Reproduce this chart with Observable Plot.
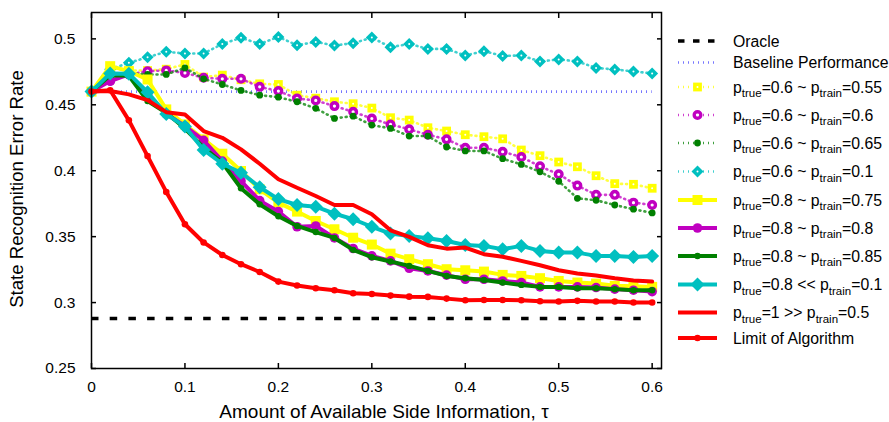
<!DOCTYPE html>
<html><head><meta charset="utf-8">
<script src="https://cdn.jsdelivr.net/npm/d3@7"></script>
<script src="https://cdn.jsdelivr.net/npm/@observablehq/plot@0.6"></script>
<style>html,body{margin:0;padding:0;background:#fff} svg{display:block}</style>
</head><body><div id="chart"></div>
<script>
// ---- data ----
const tau = [0,0.02,0.04,0.06,0.08,0.1,0.12,0.14,0.16,0.18,0.2,0.22,0.24,0.26,0.28,0.3,0.32,0.34,0.36,0.38,0.4,0.42,0.44,0.46,0.48,0.5,0.52,0.54,0.56,0.58,0.6];
const xTicks = [0,0.1,0.2,0.3,0.4,0.5,0.6];
const yTicks = [0.25,0.3,0.35,0.4,0.45,0.5];
const oracleValue = 0.288;
const baselineValue = 0.46;

const p06_055 = [0.46,0.478,0.476,0.476,0.477,0.4806,0.471,0.4725,0.469,0.4659,0.4654,0.4573,0.455,0.4523,0.4508,0.4475,0.4402,0.4384,0.4326,0.4301,0.4273,0.4258,0.4242,0.4157,0.4114,0.4066,0.403,0.3962,0.3902,0.3897,0.3867];
const p06_06 = [0.46,0.468,0.473,0.4755,0.4761,0.4742,0.4705,0.4697,0.4697,0.4636,0.4604,0.4548,0.4533,0.449,0.4447,0.4396,0.4351,0.4314,0.4273,0.4238,0.4174,0.4174,0.4144,0.4104,0.4033,0.3973,0.3887,0.3817,0.3817,0.3758,0.374];
const p06_065 = [0.46,0.47,0.474,0.473,0.473,0.478,0.4697,0.4654,0.4609,0.4573,0.4558,0.4523,0.4473,0.4397,0.4414,0.4346,0.4321,0.4263,0.4263,0.418,0.415,0.415,0.4091,0.4048,0.3992,0.392,0.3791,0.3776,0.374,0.3708,0.368];
const p06_01 = [0.46,0.477,0.4818,0.4861,0.4902,0.4889,0.4889,0.4962,0.5008,0.4962,0.5015,0.4952,0.4977,0.495,0.4967,0.501,0.4937,0.4962,0.4924,0.4924,0.4874,0.4907,0.4871,0.4874,0.4829,0.4844,0.4829,0.478,0.4768,0.4753,0.4738];
const p08_075 = [0.46,0.4793,0.4755,0.4692,0.4465,0.4351,0.4238,0.4129,0.3998,0.3859,0.3758,0.369,0.3619,0.3556,0.3492,0.344,0.3371,0.3329,0.3291,0.3253,0.3245,0.3235,0.321,0.3202,0.3185,0.3164,0.3152,0.3144,0.3127,0.3124,0.3119];
const p08_08 = [0.46,0.468,0.473,0.458,0.443,0.4339,0.423,0.4073,0.3922,0.3773,0.369,0.3575,0.3581,0.349,0.341,0.3354,0.3316,0.326,0.324,0.3208,0.3177,0.3177,0.3164,0.3152,0.3119,0.3119,0.3119,0.3114,0.3102,0.3094,0.3083];
const p08_085 = [0.46,0.4725,0.472,0.4528,0.444,0.432,0.4175,0.406,0.3867,0.3745,0.3655,0.3581,0.3535,0.349,0.34,0.3344,0.3311,0.3278,0.324,0.3202,0.3185,0.3172,0.3152,0.3134,0.3119,0.3119,0.3109,0.3109,0.3102,0.3094,0.3094];
const p08_01 = [0.46,0.4738,0.4736,0.4595,0.443,0.4335,0.4158,0.4053,0.3985,0.3875,0.3785,0.374,0.3727,0.3674,0.3632,0.3575,0.3523,0.3505,0.3488,0.3467,0.3437,0.343,0.3405,0.343,0.3392,0.3379,0.3379,0.3354,0.3354,0.3346,0.3354];
const p1_05 = [0.46,0.4604,0.4579,0.4535,0.4444,0.4427,0.4301,0.425,0.4162,0.4053,0.3935,0.3871,0.3808,0.374,0.374,0.367,0.3548,0.3498,0.3435,0.3409,0.3417,0.3367,0.3348,0.3316,0.3283,0.3245,0.322,0.3205,0.3185,0.3167,0.3159];
const limitAlg = [0.46,0.461,0.4382,0.4111,0.3839,0.3594,0.3456,0.3361,0.3291,0.3232,0.3159,0.3129,0.3109,0.3094,0.3071,0.3065,0.3053,0.3045,0.3043,0.303,0.3018,0.302,0.302,0.3018,0.301,0.3008,0.3013,0.3008,0.3008,0.3,0.3];

const legendLabels = [
  ["Oracle"],
  ["Baseline Performance"],
  ["p","true","=0.6 ~ p","train","=0.55"],
  ["p","true","=0.6 ~ p","train","=0.6"],
  ["p","true","=0.6 ~ p","train","=0.65"],
  ["p","true","=0.6 ~ p","train","=0.1"],
  ["p","true","=0.8 ~ p","train","=0.75"],
  ["p","true","=0.8 ~ p","train","=0.8"],
  ["p","true","=0.8 ~ p","train","=0.85"],
  ["p","true","=0.8 << p","train","=0.1"],
  ["p","true","=1 >> p","train","=0.5"],
  ["Limit of Algorithm"]
];

// ---- styles ----
const YEL = "#ffff00", MAG = "#c000c0", GRN = "#008000", CYN = "#00c0c0", RED = "#ff0000", BLU = "#4848ff";
const sqSym = {draw(ctx, size){const h = Math.sqrt(size/Math.PI); ctx.moveTo(-h,-h); ctx.lineTo(h,-h); ctx.lineTo(h,h); ctx.lineTo(-h,h); ctx.closePath();}};
const diaSym = {draw(ctx, size){const h = Math.sqrt(size/Math.PI); ctx.moveTo(0,-h); ctx.lineTo(h,0); ctx.lineTo(0,h); ctx.lineTo(-h,0); ctx.closePath();}};
const DOT = "1,4";

const series = [
  {v: p06_055, c: YEL, dash: DOT, w: 2.6, sym: sqSym, r: 4.4, center: true},
  {v: p06_06, c: MAG, dash: DOT, w: 2.6, sym: "circle", r: 3.3, ring: true},
  {v: p06_065, c: GRN, dash: DOT, w: 2.6, sym: "circle", r: 3.4},
  {v: p06_01, c: CYN, dash: DOT, w: 2.6, sym: diaSym, r: 6, center: true},
  {v: p08_075, c: YEL, dash: null, w: 4, sym: sqSym, r: 5},
  {v: p08_08, c: MAG, dash: null, w: 4, sym: "circle", r: 4.8},
  {v: p08_085, c: GRN, dash: null, w: 4, sym: "circle", r: 3.2},
  {v: p08_01, c: CYN, dash: null, w: 4, sym: diaSym, r: 7},
  {v: p1_05, c: RED, dash: null, w: 4, sym: null},
  {v: limitAlg, c: RED, dash: null, w: 4, sym: "circle", r: 3.3}
];

function seriesMarks(s) {
  const m = [Plot.line(s.v, {x: tau, y: d => d, stroke: s.c, strokeWidth: s.w, strokeDasharray: s.dash || undefined, strokeOpacity: s.dash ? 0.75 : 1, strokeLinejoin: "miter"})];
  if (s.sym) {
    if (s.ring) m.push(Plot.dot(s.v, {x: tau, y: d => d, r: s.r, fill: "white", stroke: s.c, strokeWidth: 3.4}));
    else m.push(Plot.dot(s.v, {x: tau, y: d => d, symbol: s.sym, r: s.r, fill: s.c, stroke: "none"}));
    if (s.center) m.push(Plot.dot(s.v, {x: tau, y: d => d, r: 1, fill: "white", stroke: "none"}));
  }
  return m;
}

const FONT = "'Liberation Sans', Arial, Helvetica, sans-serif";
const svg = Plot.plot({
  width: 889, height: 422,
  marginLeft: 91, marginRight: 228, marginTop: 12, marginBottom: 54,
  style: {fontFamily: FONT, fontSize: "15.5px", color: "black", background: "white"},
  x: {domain: [0, 0.61]},
  y: {domain: [0.25, 0.52]},
  marks: [
    Plot.ruleY([oracleValue], {x1: tau[0], x2: tau[tau.length-1], stroke: "black", strokeWidth: 3.5, strokeDasharray: "7.5,11.2"}),
    Plot.ruleY([baselineValue], {x1: tau[0], x2: tau[tau.length-1], stroke: BLU, strokeWidth: 2.6, strokeOpacity: 0.75, strokeDasharray: DOT}),
    ...series.flatMap(seriesMarks),
    Plot.frame({stroke: "black", strokeWidth: 1.5}),
    Plot.axisX(xTicks, {anchor: "bottom", tickSize: 0, tickPadding: 12, tickFormat: d => String(d), label: null}),
    Plot.axisY(yTicks, {anchor: "left", tickSize: 0, tickPadding: 16, tickFormat: d => String(d), label: null}),
    Plot.axisX(xTicks, {anchor: "bottom", tickSize: 5, dy: -5, tickFormat: () => "", label: null, strokeWidth: 1.5}),
    Plot.axisX(xTicks, {anchor: "top", tickSize: 5, dy: 5, tickFormat: () => "", label: null, strokeWidth: 1.5}),
    Plot.axisY(yTicks, {anchor: "left", tickSize: 5, dx: 5, tickFormat: () => "", label: null, strokeWidth: 1.5}),
    Plot.axisY(yTicks, {anchor: "right", tickSize: 5, dx: -5, tickFormat: () => "", label: null, strokeWidth: 1.5})
  ]
});

const S = d3.select(svg);
// axis titles
S.append("text").attr("x", 384).attr("y", 418).attr("text-anchor", "middle")
  .style("font-family", FONT).style("font-size", "19px")
  .text("Amount of Available Side Information, \u03C4");
S.append("text").attr("transform", "translate(22.5,189) rotate(-90)").attr("text-anchor", "middle")
  .style("font-family", FONT).style("font-size", "18.6px")
  .text("State Recognition Error Rate");

// legend
const legendStyles = [
  {c: "black", dash: "6.5,8.5", w: 3.5},
  {c: BLU, dash: DOT, w: 2.6},
  ...series
];
const rowY = [41, 62.5, 87, 115, 143, 171.5, 200, 228, 256, 284.5, 312.5, 338];
const L = S.append("g").style("font-family", FONT).attr("text-anchor", "start");
legendStyles.forEach((s, i) => {
  const y = rowY[i];
  L.append("line").attr("x1", 678).attr("x2", 717).attr("y1", y).attr("y2", y)
    .attr("stroke", s.c).attr("stroke-width", s.w).attr("stroke-dasharray", s.dash || null)
    .attr("stroke-opacity", s.dash && s.c !== "black" ? 0.75 : 1);
  if (s.sym) {
    const sym = s.sym === "circle" ? d3.symbolCircle : s.sym;
    const p = L.append("path").attr("transform", `translate(697.5,${y})`)
      .attr("d", d3.symbol(sym, s.r * s.r * Math.PI)());
    if (s.ring) p.attr("fill", "white").attr("stroke", s.c).attr("stroke-width", 3.4);
    else p.attr("fill", s.c);
    if (s.center) L.append("circle").attr("cx", 697.5).attr("cy", y).attr("r", 1).attr("fill", "white");
  }
  const t = L.append("text").attr("x", 733).attr("y", y + 5.5).attr("text-anchor", "start").style("font-size", "15.8px");
  const parts = legendLabels[i];
  if (parts.length === 1) t.text(parts[0]);
  else parts.forEach((p, k) => {
    const sub = k % 2 === 1;
    t.append("tspan").attr("dy", sub ? 4.5 : (k === 0 ? 0 : -4.5)).style("font-size", sub ? "11.5px" : "15.8px").text(p);
  });
});

document.getElementById("chart").appendChild(svg);
</script>
</body></html>
